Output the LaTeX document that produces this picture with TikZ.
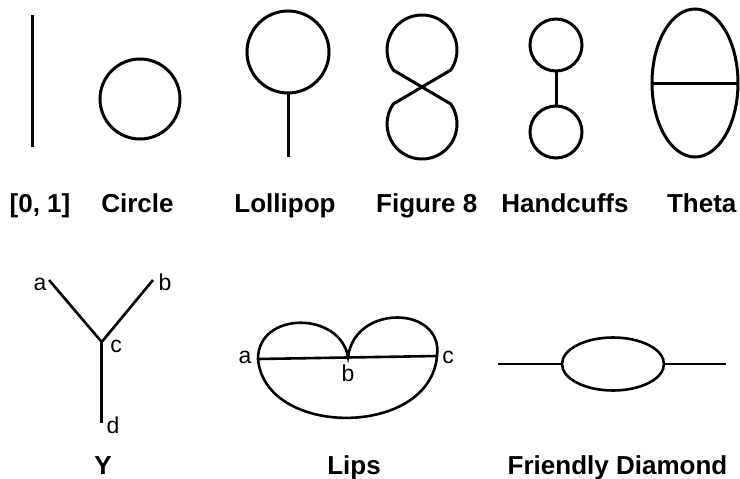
\documentclass[tikz,border=0pt]{standalone}
\usepackage{fontspec}
\setmainfont{Liberation Sans}
\usetikzlibrary{calc}
\tikzset{
  gline/.style  = {line width=3pt},              % top row
  gthin/.style  = {line width=2.6pt},            % bottom row
  gname/.style  = {anchor=base, inner sep=0pt, font=\fontsize{26}{30}\selectfont\bfseries},
  vname/.style  = {anchor=base, inner sep=0pt, font=\fontsize{23}{27}\selectfont},
}
\newcommand{\gbase}{212}
\newcommand{\gbaseb}{474}

\begin{document}
\begin{tikzpicture}[x=1pt, y=-1pt]
  \useasboundingbox (0,0) rectangle (740,479);

  % [0,1]
  \coordinate (segtop) at (32,15);
  \coordinate (segbot) at (32,147);
  \draw[gline] (segtop) -- (segbot);
  \node[gname] (lblseg) at (40,\gbase) {[0, 1]};

  % circle
  \coordinate (circc) at (140,99);
  \draw[gline] (circc) circle[radius=40];
  \node[gname] (lblcirc) at (137.5,\gbase) {Circle};

  % lollipop
  \coordinate (lolc) at (288,52);
  \coordinate (lolj) at (288,93);
  \coordinate (lolend) at (288,157);
  \draw[gline] (lolc) circle[radius=41];
  \draw[gline] (lolj) -- (lolend);
  \node[gname] (lbllol) at (285,\gbase) {Lollipop};

  % figure 8
  \coordinate (eightx) at (422,87);
  \coordinate (eightt) at (422,50);
  \coordinate (eightb) at (422,124);
  \draw[gline, line join=round] (eightx) -- ($(eightt)+(35:35)$)
    arc[start angle=35, end angle=-215, radius=35] -- (eightx)
    -- ($(eightb)+(-35:35)$) arc[start angle=-35, end angle=215, radius=35] -- cycle;
  \node[gname] (lbleight) at (426.7,\gbase) {Figure 8};

  % handcuffs
  \coordinate (cufft) at (556,45);
  \coordinate (cuffb) at (556,132);
  \draw[gline] (cufft) circle[radius=26];
  \draw[gline] (cuffb) circle[radius=26];
  \draw[gline] ($(cufft)+(0,26)$) -- ($(cuffb)+(0,-26)$);
  \node[gname] (lblcuff) at (565,\gbase) {Handcuffs};

  % theta
  \coordinate (thc) at (695,83);
  \coordinate (thl) at (652,83);
  \coordinate (thr) at (738,83);
  \draw[gline] (thc) ellipse[x radius=43, y radius=74];
  \draw[gline] (thl) -- (thr);
  \node[gname] (lbltheta) at (701.7,\gbase) {Theta};

  % Y
  \coordinate (ya) at (49,280);
  \coordinate (yb) at (153,280);
  \coordinate (yc) at (101.7,342);
  \coordinate (yd) at (101.7,423);
  \draw[gthin] (ya) -- (yc) -- (yb);
  \draw[gthin] (yc) -- (yd);
  \node[vname] (yla) at (40,290) {a};
  \node[vname] (ylb) at (165,290) {b};
  \node[vname] (ylc) at (116,352) {c};
  \node[vname] (yld) at (113,433) {d};
  \node[gname] (lbly) at (103,\gbaseb) {Y};

  % lips
  \coordinate (lpa) at (258,359);
  \coordinate (lpb) at (348,357);
  \coordinate (lpc) at (437,356);
  \draw[gthin] (lpa) -- (lpc);
  \draw[gthin] (lpa) .. controls (258,311) and (340,311) .. (lpb)
    .. controls (355,303) and (444,306) .. (lpc);
  \draw[gthin] (lpa) .. controls (265,438) and (430,438) .. (lpc);
  \node[vname] (lpla) at (245,363) {a};
  \node[vname] (lplb) at (348,381.5) {b};
  \node[vname] (lplc) at (448,363) {c};
  \node[gname] (lbllips) at (354,\gbaseb) {Lips};

  % friendly diamond
  \coordinate (fdl) at (498,364);
  \coordinate (fdc) at (613,364);
  \coordinate (fdr) at (726,364);
  \draw[gthin] (fdc) ellipse[x radius=51, y radius=26.5];
  \draw[gthin] (fdl) -- ($(fdc)+(-51,0)$);
  \draw[gthin] ($(fdc)+(51,0)$) -- (fdr);
  \node[gname] (lblfd) at (617.5,\gbaseb) {Friendly Diamond};
\end{tikzpicture}
\end{document}
